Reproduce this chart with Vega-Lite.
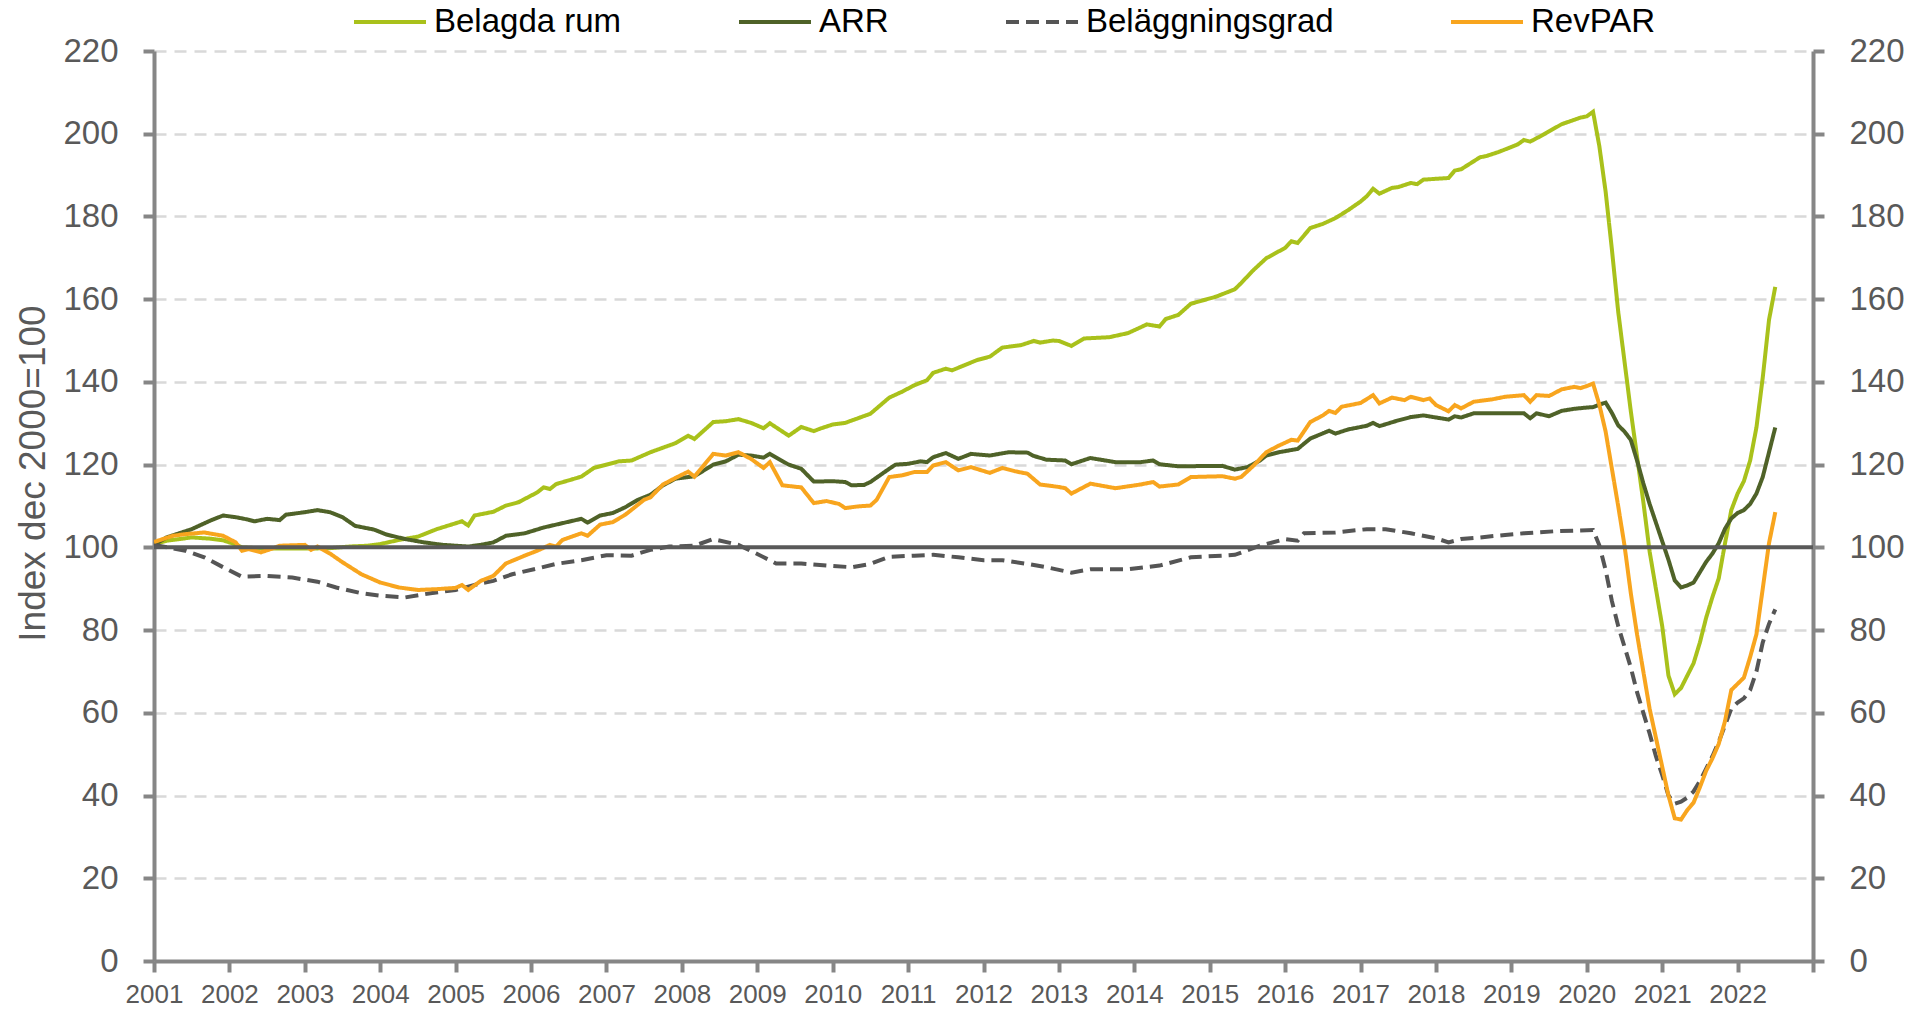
{
  "$schema": "https://vega.github.io/schema/vega-lite/v6.json",
  "width": 1659,
  "height": 910,
  "autosize": {"type": "none"},
  "padding": {"left": 154, "top": 51, "right": 98, "bottom": 52},
  "background": "white",
  "config": {
    "font": "Liberation Sans",
    "view": {"stroke": null},
    "legend": {
      "orient": "none",
      "legendX": 198,
      "legendY": -67,
      "direction": "horizontal",
      "symbolType": "stroke",
      "symbolSize": 5184,
      "symbolStrokeWidth": 4,
      "labelFontSize": 33,
      "labelColor": "#000000",
      "labelOffset": 6,
      "labelLimit": 500,
      "columnPadding": 109,
      "padding": 0
    }
  },
  "datasets": {
    "series": [
      {"m":0,"s":"Belagda rum","v":100.8},{"m":2,"s":"Belagda rum","v":101.6},{"m":6,"s":"Belagda rum","v":102.4},{"m":9,"s":"Belagda rum","v":102.1},{"m":11,"s":"Belagda rum","v":101.7},{"m":13,"s":"Belagda rum","v":100.7},{"m":14,"s":"Belagda rum","v":100},{"m":18,"s":"Belagda rum","v":99.7},{"m":24,"s":"Belagda rum","v":99.7},{"m":28,"s":"Belagda rum","v":99.8},{"m":31,"s":"Belagda rum","v":100.2},{"m":34,"s":"Belagda rum","v":100.4},{"m":36,"s":"Belagda rum","v":100.8},{"m":39,"s":"Belagda rum","v":101.8},{"m":42,"s":"Belagda rum","v":102.6},{"m":45,"s":"Belagda rum","v":104.4},{"m":49,"s":"Belagda rum","v":106.3},{"m":50,"s":"Belagda rum","v":105.3},{"m":51,"s":"Belagda rum","v":107.7},{"m":54,"s":"Belagda rum","v":108.6},{"m":56,"s":"Belagda rum","v":110.1},{"m":58,"s":"Belagda rum","v":110.9},{"m":61,"s":"Belagda rum","v":113.3},{"m":62,"s":"Belagda rum","v":114.5},{"m":63,"s":"Belagda rum","v":114.1},{"m":64,"s":"Belagda rum","v":115.3},{"m":68,"s":"Belagda rum","v":117.1},{"m":70,"s":"Belagda rum","v":119.2},{"m":74,"s":"Belagda rum","v":120.8},{"m":76,"s":"Belagda rum","v":121},{"m":79,"s":"Belagda rum","v":123},{"m":83,"s":"Belagda rum","v":125.2},{"m":85,"s":"Belagda rum","v":127},{"m":86,"s":"Belagda rum","v":126.2},{"m":89,"s":"Belagda rum","v":130.3},{"m":91,"s":"Belagda rum","v":130.5},{"m":93,"s":"Belagda rum","v":131},{"m":95,"s":"Belagda rum","v":130.1},{"m":97,"s":"Belagda rum","v":128.8},{"m":98,"s":"Belagda rum","v":130},{"m":101,"s":"Belagda rum","v":127},{"m":103,"s":"Belagda rum","v":129.1},{"m":105,"s":"Belagda rum","v":128.1},{"m":106,"s":"Belagda rum","v":128.7},{"m":108,"s":"Belagda rum","v":129.7},{"m":110,"s":"Belagda rum","v":130.1},{"m":112,"s":"Belagda rum","v":131.2},{"m":114,"s":"Belagda rum","v":132.3},{"m":117,"s":"Belagda rum","v":136.2},{"m":119,"s":"Belagda rum","v":137.6},{"m":121,"s":"Belagda rum","v":139.2},{"m":123,"s":"Belagda rum","v":140.4},{"m":124,"s":"Belagda rum","v":142.2},{"m":126,"s":"Belagda rum","v":143.2},{"m":127,"s":"Belagda rum","v":142.8},{"m":131,"s":"Belagda rum","v":145.3},{"m":133,"s":"Belagda rum","v":146.1},{"m":135,"s":"Belagda rum","v":148.3},{"m":138,"s":"Belagda rum","v":148.9},{"m":140,"s":"Belagda rum","v":149.9},{"m":141,"s":"Belagda rum","v":149.5},{"m":143,"s":"Belagda rum","v":150},{"m":144,"s":"Belagda rum","v":149.9},{"m":146,"s":"Belagda rum","v":148.7},{"m":148,"s":"Belagda rum","v":150.5},{"m":152,"s":"Belagda rum","v":150.8},{"m":155,"s":"Belagda rum","v":151.8},{"m":158,"s":"Belagda rum","v":153.9},{"m":160,"s":"Belagda rum","v":153.4},{"m":161,"s":"Belagda rum","v":155.2},{"m":163,"s":"Belagda rum","v":156.2},{"m":165,"s":"Belagda rum","v":158.9},{"m":169,"s":"Belagda rum","v":160.6},{"m":172,"s":"Belagda rum","v":162.4},{"m":173,"s":"Belagda rum","v":163.9},{"m":175,"s":"Belagda rum","v":167.1},{"m":177,"s":"Belagda rum","v":169.9},{"m":180,"s":"Belagda rum","v":172.4},{"m":181,"s":"Belagda rum","v":174},{"m":182,"s":"Belagda rum","v":173.6},{"m":184,"s":"Belagda rum","v":177.2},{"m":186,"s":"Belagda rum","v":178.2},{"m":188,"s":"Belagda rum","v":179.6},{"m":190,"s":"Belagda rum","v":181.5},{"m":192,"s":"Belagda rum","v":183.6},{"m":193,"s":"Belagda rum","v":184.9},{"m":194,"s":"Belagda rum","v":186.7},{"m":195,"s":"Belagda rum","v":185.5},{"m":197,"s":"Belagda rum","v":186.9},{"m":198,"s":"Belagda rum","v":187.1},{"m":200,"s":"Belagda rum","v":188.1},{"m":201,"s":"Belagda rum","v":187.8},{"m":202,"s":"Belagda rum","v":188.9},{"m":206,"s":"Belagda rum","v":189.3},{"m":207,"s":"Belagda rum","v":191.1},{"m":208,"s":"Belagda rum","v":191.4},{"m":211,"s":"Belagda rum","v":194.3},{"m":212,"s":"Belagda rum","v":194.6},{"m":214,"s":"Belagda rum","v":195.6},{"m":217,"s":"Belagda rum","v":197.4},{"m":218,"s":"Belagda rum","v":198.5},{"m":219,"s":"Belagda rum","v":198.1},{"m":221,"s":"Belagda rum","v":199.7},{"m":224,"s":"Belagda rum","v":202.3},{"m":227,"s":"Belagda rum","v":203.9},{"m":228,"s":"Belagda rum","v":204.2},{"m":229,"s":"Belagda rum","v":205.3},{"m":230,"s":"Belagda rum","v":197},{"m":231,"s":"Belagda rum","v":186},{"m":232,"s":"Belagda rum","v":172},{"m":233,"s":"Belagda rum","v":157},{"m":234,"s":"Belagda rum","v":145},{"m":235,"s":"Belagda rum","v":133},{"m":236,"s":"Belagda rum","v":122},{"m":237,"s":"Belagda rum","v":111},{"m":238,"s":"Belagda rum","v":99},{"m":239,"s":"Belagda rum","v":90},{"m":240,"s":"Belagda rum","v":81},{"m":241,"s":"Belagda rum","v":69},{"m":242,"s":"Belagda rum","v":64.5},{"m":243,"s":"Belagda rum","v":66},{"m":244,"s":"Belagda rum","v":69},{"m":245,"s":"Belagda rum","v":72},{"m":246,"s":"Belagda rum","v":77},{"m":247,"s":"Belagda rum","v":83},{"m":248,"s":"Belagda rum","v":88},{"m":249,"s":"Belagda rum","v":92.5},{"m":250,"s":"Belagda rum","v":101},{"m":251,"s":"Belagda rum","v":109},{"m":252,"s":"Belagda rum","v":113},{"m":253,"s":"Belagda rum","v":116},{"m":254,"s":"Belagda rum","v":121},{"m":255,"s":"Belagda rum","v":129},{"m":256,"s":"Belagda rum","v":141},{"m":257,"s":"Belagda rum","v":155},{"m":258,"s":"Belagda rum","v":163},

      {"m":0,"s":"ARR","v":100.6},{"m":2,"s":"ARR","v":102.4},{"m":6,"s":"ARR","v":104.4},{"m":9,"s":"ARR","v":106.5},{"m":11,"s":"ARR","v":107.7},{"m":13,"s":"ARR","v":107.3},{"m":15,"s":"ARR","v":106.7},{"m":16,"s":"ARR","v":106.3},{"m":18,"s":"ARR","v":106.9},{"m":20,"s":"ARR","v":106.6},{"m":21,"s":"ARR","v":107.9},{"m":24,"s":"ARR","v":108.5},{"m":26,"s":"ARR","v":109},{"m":28,"s":"ARR","v":108.5},{"m":30,"s":"ARR","v":107.3},{"m":32,"s":"ARR","v":105.2},{"m":35,"s":"ARR","v":104.3},{"m":37,"s":"ARR","v":103.1},{"m":40,"s":"ARR","v":102},{"m":43,"s":"ARR","v":101.2},{"m":46,"s":"ARR","v":100.6},{"m":50,"s":"ARR","v":100.2},{"m":52,"s":"ARR","v":100.6},{"m":54,"s":"ARR","v":101.2},{"m":56,"s":"ARR","v":102.8},{"m":59,"s":"ARR","v":103.4},{"m":62,"s":"ARR","v":104.8},{"m":64,"s":"ARR","v":105.5},{"m":68,"s":"ARR","v":106.9},{"m":69,"s":"ARR","v":106},{"m":71,"s":"ARR","v":107.7},{"m":73,"s":"ARR","v":108.3},{"m":75,"s":"ARR","v":109.7},{"m":77,"s":"ARR","v":111.5},{"m":79,"s":"ARR","v":112.7},{"m":81,"s":"ARR","v":115},{"m":83,"s":"ARR","v":116.6},{"m":86,"s":"ARR","v":117.2},{"m":89,"s":"ARR","v":120},{"m":91,"s":"ARR","v":120.8},{"m":93,"s":"ARR","v":122.4},{"m":95,"s":"ARR","v":122.2},{"m":97,"s":"ARR","v":121.7},{"m":98,"s":"ARR","v":122.6},{"m":101,"s":"ARR","v":120},{"m":103,"s":"ARR","v":119},{"m":105,"s":"ARR","v":115.9},{"m":108,"s":"ARR","v":116},{"m":110,"s":"ARR","v":115.8},{"m":111,"s":"ARR","v":115},{"m":113,"s":"ARR","v":115.1},{"m":114,"s":"ARR","v":115.8},{"m":117,"s":"ARR","v":119},{"m":118,"s":"ARR","v":120},{"m":120,"s":"ARR","v":120.2},{"m":122,"s":"ARR","v":120.8},{"m":123,"s":"ARR","v":120.6},{"m":124,"s":"ARR","v":121.8},{"m":126,"s":"ARR","v":122.8},{"m":128,"s":"ARR","v":121.4},{"m":130,"s":"ARR","v":122.6},{"m":133,"s":"ARR","v":122.2},{"m":136,"s":"ARR","v":123},{"m":139,"s":"ARR","v":122.9},{"m":140,"s":"ARR","v":122.1},{"m":142,"s":"ARR","v":121.2},{"m":145,"s":"ARR","v":121},{"m":146,"s":"ARR","v":120.1},{"m":149,"s":"ARR","v":121.6},{"m":153,"s":"ARR","v":120.6},{"m":157,"s":"ARR","v":120.6},{"m":159,"s":"ARR","v":121},{"m":160,"s":"ARR","v":120.1},{"m":163,"s":"ARR","v":119.6},{"m":170,"s":"ARR","v":119.7},{"m":172,"s":"ARR","v":118.8},{"m":174,"s":"ARR","v":119.4},{"m":176,"s":"ARR","v":121},{"m":177,"s":"ARR","v":122.2},{"m":179,"s":"ARR","v":123},{"m":182,"s":"ARR","v":123.8},{"m":184,"s":"ARR","v":126.3},{"m":187,"s":"ARR","v":128.2},{"m":188,"s":"ARR","v":127.5},{"m":190,"s":"ARR","v":128.5},{"m":193,"s":"ARR","v":129.4},{"m":194,"s":"ARR","v":130.1},{"m":195,"s":"ARR","v":129.3},{"m":198,"s":"ARR","v":130.7},{"m":200,"s":"ARR","v":131.5},{"m":202,"s":"ARR","v":131.9},{"m":206,"s":"ARR","v":130.9},{"m":207,"s":"ARR","v":131.7},{"m":208,"s":"ARR","v":131.4},{"m":210,"s":"ARR","v":132.4},{"m":215,"s":"ARR","v":132.4},{"m":218,"s":"ARR","v":132.4},{"m":219,"s":"ARR","v":131.2},{"m":220,"s":"ARR","v":132.4},{"m":222,"s":"ARR","v":131.7},{"m":224,"s":"ARR","v":133},{"m":226,"s":"ARR","v":133.5},{"m":228,"s":"ARR","v":133.8},{"m":229,"s":"ARR","v":133.9},{"m":230,"s":"ARR","v":134.5},{"m":231,"s":"ARR","v":135},{"m":232,"s":"ARR","v":132.5},{"m":233,"s":"ARR","v":129.5},{"m":234,"s":"ARR","v":128},{"m":235,"s":"ARR","v":126},{"m":236,"s":"ARR","v":121},{"m":237,"s":"ARR","v":115.5},{"m":238,"s":"ARR","v":110.5},{"m":239,"s":"ARR","v":106},{"m":240,"s":"ARR","v":101.5},{"m":241,"s":"ARR","v":97},{"m":242,"s":"ARR","v":92},{"m":243,"s":"ARR","v":90.3},{"m":244,"s":"ARR","v":90.8},{"m":245,"s":"ARR","v":91.5},{"m":246,"s":"ARR","v":94},{"m":247,"s":"ARR","v":96.5},{"m":248,"s":"ARR","v":98.5},{"m":249,"s":"ARR","v":101},{"m":250,"s":"ARR","v":104.5},{"m":251,"s":"ARR","v":107},{"m":252,"s":"ARR","v":108.3},{"m":253,"s":"ARR","v":109},{"m":254,"s":"ARR","v":110.5},{"m":255,"s":"ARR","v":113},{"m":256,"s":"ARR","v":117},{"m":257,"s":"ARR","v":123},{"m":258,"s":"ARR","v":129},

      {"m":0,"s":"Beläggningsgrad","v":100.6},{"m":5,"s":"Beläggningsgrad","v":99.2},{"m":8,"s":"Beläggningsgrad","v":97.6},{"m":11,"s":"Beläggningsgrad","v":95.2},{"m":14,"s":"Beläggningsgrad","v":92.9},{"m":18,"s":"Beläggningsgrad","v":93.1},{"m":22,"s":"Beläggningsgrad","v":92.7},{"m":26,"s":"Beläggningsgrad","v":91.7},{"m":29,"s":"Beläggningsgrad","v":90.3},{"m":33,"s":"Beläggningsgrad","v":88.9},{"m":36,"s":"Beläggningsgrad","v":88.3},{"m":40,"s":"Beläggningsgrad","v":87.9},{"m":44,"s":"Beläggningsgrad","v":88.9},{"m":48,"s":"Beläggningsgrad","v":89.7},{"m":52,"s":"Beläggningsgrad","v":91.3},{"m":54,"s":"Beläggningsgrad","v":91.9},{"m":57,"s":"Beläggningsgrad","v":93.5},{"m":61,"s":"Beläggningsgrad","v":94.9},{"m":64,"s":"Beläggningsgrad","v":96},{"m":68,"s":"Beläggningsgrad","v":96.9},{"m":72,"s":"Beläggningsgrad","v":98.1},{"m":76,"s":"Beläggningsgrad","v":98},{"m":79,"s":"Beläggningsgrad","v":99.4},{"m":82,"s":"Beläggningsgrad","v":100.2},{"m":86,"s":"Beläggningsgrad","v":100.4},{"m":89,"s":"Beläggningsgrad","v":102},{"m":93,"s":"Beläggningsgrad","v":100.6},{"m":96,"s":"Beläggningsgrad","v":98.4},{"m":99,"s":"Beläggningsgrad","v":96.1},{"m":103,"s":"Beläggningsgrad","v":96.1},{"m":107,"s":"Beläggningsgrad","v":95.6},{"m":111,"s":"Beläggningsgrad","v":95.2},{"m":114,"s":"Beläggningsgrad","v":96},{"m":117,"s":"Beläggningsgrad","v":97.7},{"m":121,"s":"Beläggningsgrad","v":98},{"m":124,"s":"Beläggningsgrad","v":98.2},{"m":128,"s":"Beläggningsgrad","v":97.6},{"m":132,"s":"Beläggningsgrad","v":96.9},{"m":135,"s":"Beläggningsgrad","v":96.9},{"m":139,"s":"Beläggningsgrad","v":96},{"m":142,"s":"Beläggningsgrad","v":95.2},{"m":146,"s":"Beläggningsgrad","v":93.9},{"m":149,"s":"Beläggningsgrad","v":94.7},{"m":155,"s":"Beläggningsgrad","v":94.7},{"m":160,"s":"Beläggningsgrad","v":95.6},{"m":165,"s":"Beläggningsgrad","v":97.6},{"m":170,"s":"Beläggningsgrad","v":98},{"m":172,"s":"Beläggningsgrad","v":98.2},{"m":176,"s":"Beläggningsgrad","v":100.4},{"m":180,"s":"Beläggningsgrad","v":102},{"m":182,"s":"Beläggningsgrad","v":101.6},{"m":183,"s":"Beläggningsgrad","v":103.4},{"m":188,"s":"Beläggningsgrad","v":103.6},{"m":193,"s":"Beläggningsgrad","v":104.4},{"m":196,"s":"Beläggningsgrad","v":104.4},{"m":200,"s":"Beläggningsgrad","v":103.4},{"m":204,"s":"Beläggningsgrad","v":102.2},{"m":206,"s":"Beläggningsgrad","v":101.2},{"m":208,"s":"Beläggningsgrad","v":102},{"m":211,"s":"Beläggningsgrad","v":102.4},{"m":215,"s":"Beläggningsgrad","v":103},{"m":218,"s":"Beläggningsgrad","v":103.4},{"m":223,"s":"Beläggningsgrad","v":103.9},{"m":227,"s":"Beläggningsgrad","v":104.1},{"m":229,"s":"Beläggningsgrad","v":104.2},{"m":230,"s":"Beläggningsgrad","v":100.5},{"m":231,"s":"Beläggningsgrad","v":94.5},{"m":232,"s":"Beläggningsgrad","v":87},{"m":233,"s":"Beläggningsgrad","v":81},{"m":234,"s":"Beläggningsgrad","v":76},{"m":235,"s":"Beläggningsgrad","v":71},{"m":236,"s":"Beläggningsgrad","v":65},{"m":237,"s":"Beläggningsgrad","v":60},{"m":238,"s":"Beläggningsgrad","v":55},{"m":239,"s":"Beläggningsgrad","v":49.5},{"m":240,"s":"Beläggningsgrad","v":45},{"m":241,"s":"Beläggningsgrad","v":40},{"m":242,"s":"Beläggningsgrad","v":38},{"m":243,"s":"Beläggningsgrad","v":38.5},{"m":244,"s":"Beläggningsgrad","v":39.5},{"m":245,"s":"Beläggningsgrad","v":41},{"m":246,"s":"Beläggningsgrad","v":43.5},{"m":247,"s":"Beläggningsgrad","v":46.5},{"m":248,"s":"Beläggningsgrad","v":49.5},{"m":249,"s":"Beläggningsgrad","v":53},{"m":250,"s":"Beläggningsgrad","v":57},{"m":251,"s":"Beläggningsgrad","v":61},{"m":252,"s":"Beläggningsgrad","v":62.5},{"m":253,"s":"Beläggningsgrad","v":63.5},{"m":254,"s":"Beläggningsgrad","v":65.5},{"m":255,"s":"Beläggningsgrad","v":70},{"m":256,"s":"Beläggningsgrad","v":77},{"m":257,"s":"Beläggningsgrad","v":81.5},{"m":258,"s":"Beläggningsgrad","v":85},

      {"m":0,"s":"RevPAR","v":101.3},{"m":3,"s":"RevPAR","v":102.8},{"m":5,"s":"RevPAR","v":103.2},{"m":8,"s":"RevPAR","v":103.6},{"m":11,"s":"RevPAR","v":102.8},{"m":13,"s":"RevPAR","v":101.2},{"m":14,"s":"RevPAR","v":99.2},{"m":15,"s":"RevPAR","v":99.6},{"m":17,"s":"RevPAR","v":98.8},{"m":19,"s":"RevPAR","v":99.8},{"m":20,"s":"RevPAR","v":100.4},{"m":24,"s":"RevPAR","v":100.6},{"m":25,"s":"RevPAR","v":99.4},{"m":26,"s":"RevPAR","v":100.2},{"m":28,"s":"RevPAR","v":98.5},{"m":30,"s":"RevPAR","v":96.4},{"m":33,"s":"RevPAR","v":93.5},{"m":36,"s":"RevPAR","v":91.5},{"m":39,"s":"RevPAR","v":90.3},{"m":42,"s":"RevPAR","v":89.7},{"m":45,"s":"RevPAR","v":89.9},{"m":48,"s":"RevPAR","v":90.2},{"m":49,"s":"RevPAR","v":90.9},{"m":50,"s":"RevPAR","v":89.7},{"m":52,"s":"RevPAR","v":91.9},{"m":54,"s":"RevPAR","v":93.1},{"m":56,"s":"RevPAR","v":96.1},{"m":59,"s":"RevPAR","v":98},{"m":61,"s":"RevPAR","v":99.2},{"m":63,"s":"RevPAR","v":100.6},{"m":64,"s":"RevPAR","v":100.2},{"m":65,"s":"RevPAR","v":101.8},{"m":68,"s":"RevPAR","v":103.4},{"m":69,"s":"RevPAR","v":102.8},{"m":71,"s":"RevPAR","v":105.5},{"m":73,"s":"RevPAR","v":106.1},{"m":75,"s":"RevPAR","v":107.9},{"m":78,"s":"RevPAR","v":111.5},{"m":79,"s":"RevPAR","v":112.1},{"m":81,"s":"RevPAR","v":115.2},{"m":83,"s":"RevPAR","v":116.8},{"m":85,"s":"RevPAR","v":118.3},{"m":86,"s":"RevPAR","v":117.1},{"m":89,"s":"RevPAR","v":122.6},{"m":91,"s":"RevPAR","v":122.2},{"m":93,"s":"RevPAR","v":123},{"m":95,"s":"RevPAR","v":121.4},{"m":97,"s":"RevPAR","v":119.2},{"m":98,"s":"RevPAR","v":120.6},{"m":100,"s":"RevPAR","v":115},{"m":103,"s":"RevPAR","v":114.5},{"m":105,"s":"RevPAR","v":110.7},{"m":107,"s":"RevPAR","v":111.2},{"m":109,"s":"RevPAR","v":110.5},{"m":110,"s":"RevPAR","v":109.5},{"m":112,"s":"RevPAR","v":109.9},{"m":114,"s":"RevPAR","v":110.1},{"m":115,"s":"RevPAR","v":111.5},{"m":117,"s":"RevPAR","v":117},{"m":119,"s":"RevPAR","v":117.4},{"m":121,"s":"RevPAR","v":118.2},{"m":123,"s":"RevPAR","v":118.2},{"m":124,"s":"RevPAR","v":119.8},{"m":126,"s":"RevPAR","v":120.6},{"m":128,"s":"RevPAR","v":118.6},{"m":130,"s":"RevPAR","v":119.4},{"m":133,"s":"RevPAR","v":118},{"m":135,"s":"RevPAR","v":119.2},{"m":137,"s":"RevPAR","v":118.4},{"m":139,"s":"RevPAR","v":117.8},{"m":141,"s":"RevPAR","v":115.2},{"m":144,"s":"RevPAR","v":114.6},{"m":145,"s":"RevPAR","v":114.3},{"m":146,"s":"RevPAR","v":113},{"m":149,"s":"RevPAR","v":115.4},{"m":153,"s":"RevPAR","v":114.3},{"m":157,"s":"RevPAR","v":115.2},{"m":159,"s":"RevPAR","v":115.8},{"m":160,"s":"RevPAR","v":114.7},{"m":163,"s":"RevPAR","v":115.2},{"m":165,"s":"RevPAR","v":117},{"m":170,"s":"RevPAR","v":117.2},{"m":172,"s":"RevPAR","v":116.6},{"m":173,"s":"RevPAR","v":117},{"m":175,"s":"RevPAR","v":119.8},{"m":177,"s":"RevPAR","v":123},{"m":179,"s":"RevPAR","v":124.6},{"m":181,"s":"RevPAR","v":126},{"m":182,"s":"RevPAR","v":125.8},{"m":184,"s":"RevPAR","v":130.3},{"m":186,"s":"RevPAR","v":131.9},{"m":187,"s":"RevPAR","v":133},{"m":188,"s":"RevPAR","v":132.5},{"m":189,"s":"RevPAR","v":134},{"m":192,"s":"RevPAR","v":134.9},{"m":194,"s":"RevPAR","v":136.8},{"m":195,"s":"RevPAR","v":134.8},{"m":197,"s":"RevPAR","v":136.2},{"m":199,"s":"RevPAR","v":135.6},{"m":200,"s":"RevPAR","v":136.4},{"m":202,"s":"RevPAR","v":135.6},{"m":203,"s":"RevPAR","v":136},{"m":204,"s":"RevPAR","v":134.4},{"m":206,"s":"RevPAR","v":132.9},{"m":207,"s":"RevPAR","v":134.4},{"m":208,"s":"RevPAR","v":133.6},{"m":210,"s":"RevPAR","v":135.2},{"m":213,"s":"RevPAR","v":135.8},{"m":215,"s":"RevPAR","v":136.4},{"m":218,"s":"RevPAR","v":136.8},{"m":219,"s":"RevPAR","v":135.2},{"m":220,"s":"RevPAR","v":136.8},{"m":222,"s":"RevPAR","v":136.6},{"m":224,"s":"RevPAR","v":138.2},{"m":226,"s":"RevPAR","v":138.8},{"m":227,"s":"RevPAR","v":138.5},{"m":228,"s":"RevPAR","v":139},{"m":229,"s":"RevPAR","v":139.6},{"m":230,"s":"RevPAR","v":134.5},{"m":231,"s":"RevPAR","v":128},{"m":232,"s":"RevPAR","v":119},{"m":233,"s":"RevPAR","v":110},{"m":234,"s":"RevPAR","v":100.5},{"m":235,"s":"RevPAR","v":89},{"m":236,"s":"RevPAR","v":79},{"m":237,"s":"RevPAR","v":70},{"m":238,"s":"RevPAR","v":61},{"m":239,"s":"RevPAR","v":54},{"m":240,"s":"RevPAR","v":47},{"m":241,"s":"RevPAR","v":40},{"m":242,"s":"RevPAR","v":34.5},{"m":243,"s":"RevPAR","v":34.2},{"m":244,"s":"RevPAR","v":36.5},{"m":245,"s":"RevPAR","v":38.3},{"m":246,"s":"RevPAR","v":42},{"m":247,"s":"RevPAR","v":46},{"m":248,"s":"RevPAR","v":49},{"m":249,"s":"RevPAR","v":52.5},{"m":250,"s":"RevPAR","v":58},{"m":251,"s":"RevPAR","v":65.5},{"m":252,"s":"RevPAR","v":67},{"m":253,"s":"RevPAR","v":68.5},{"m":254,"s":"RevPAR","v":73.5},{"m":255,"s":"RevPAR","v":79},{"m":256,"s":"RevPAR","v":90},{"m":257,"s":"RevPAR","v":101},{"m":258,"s":"RevPAR","v":108.5}
    ],
    "reference": [{"level": 100}]
  },
  "layer": [
    {
      "data": {"name": "series"},
      "mark": {"type": "line", "strokeWidth": 4, "strokeCap": "butt", "clip": true},
      "encoding": {
        "x": {
          "field": "m",
          "type": "quantitative",
          "scale": {"domain": [0, 264], "nice": false, "zero": false},
          "axis": {
            "title": null,
            "values": [0,12,24,36,48,60,72,84,96,108,120,132,144,156,168,180,192,204,216,228,240,252,264],
            "labelExpr": "datum.value >= 264 ? '' : '' + (2001 + datum.value / 12)",
            "labelFlush": false,
            "labelOverlap": false,
            "labelFontSize": 26,
            "labelColor": "#595959",
            "labelPadding": 9,
            "grid": false,
            "domainColor": "#868686",
            "domainWidth": 4,
            "tickColor": "#868686",
            "tickWidth": 4,
            "tickSize": 11
          }
        },
        "y": {
          "field": "v",
          "type": "quantitative",
          "scale": {"domain": [0, 220], "nice": false},
          "axis": {
            "title": "Index dec 2000=100",
            "values": [0,20,40,60,80,100,120,140,160,180,200,220],
            "grid": true,
            "gridColor": "#D9D9D9",
            "gridDash": [12, 8],
            "gridWidth": 2.5,
            "domainColor": "#868686",
            "domainWidth": 4,
            "tickColor": "#868686",
            "tickWidth": 4,
            "tickSize": 11,
            "labelFontSize": 33,
            "labelColor": "#595959",
            "labelPadding": 25,
            "titleFontSize": 37,
            "titleFontWeight": "normal",
            "titleColor": "#595959",
            "titleX": -121,
            "titleY": 422,
            "titleAngle": -90,
            "titleAlign": "center",
            "titleBaseline": "middle"
          }
        },
        "color": {
          "field": "s",
          "type": "nominal",
          "scale": {
            "domain": ["Belagda rum", "ARR", "Beläggningsgrad", "RevPAR"],
            "range": ["#A9C11B", "#4F6228", "#555555", "#F8A51E"]
          },
          "legend": {"title": null}
        },
        "strokeDash": {
          "field": "s",
          "type": "nominal",
          "scale": {
            "domain": ["Belagda rum", "ARR", "Beläggningsgrad", "RevPAR"],
            "range": [[1, 0], [1, 0], [13, 7], [1, 0]]
          },
          "legend": {"title": null}
        }
      }
    },
    {
      "data": {"name": "reference"},
      "mark": {"type": "rule", "color": "#595959", "strokeWidth": 4},
      "encoding": {
        "y": {
          "field": "level",
          "type": "quantitative",
          "scale": {"domain": [0, 220], "nice": false},
          "axis": {
            "orient": "right",
            "title": null,
            "values": [0,20,40,60,80,100,120,140,160,180,200,220],
            "grid": false,
            "domainColor": "#868686",
            "domainWidth": 4,
            "tickColor": "#868686",
            "tickWidth": 4,
            "tickSize": 11,
            "labelFontSize": 33,
            "labelColor": "#595959",
            "labelPadding": 25
          }
        }
      }
    }
  ],
  "resolve": {"scale": {"y": "independent"}}
}
